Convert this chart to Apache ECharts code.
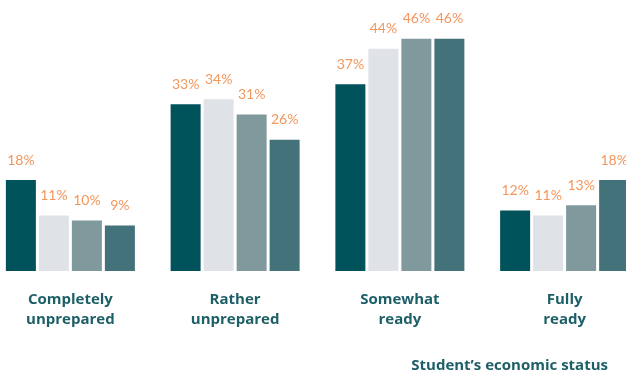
<!DOCTYPE html>
<html>
<head>
<meta charset="utf-8">
<script src="https://cdn.jsdelivr.net/npm/echarts@6/dist/echarts.min.js"></script>
<style>
  html, body { margin: 0; padding: 0; background: #ffffff; overflow: hidden; }
  /* The outer bars run slightly past the page edges, so the canvas is wider than the page */
  #chart { width: 659px; height: 376px; margin-left: -12px; }
</style>
</head>
<body>
<div id="chart"></div>
<script>
// Readiness categories along the x axis
const categories = ['Completely\nunprepared', 'Rather\nunprepared', 'Somewhat\nready', 'Fully\nready'];

// Share of students (%) per economic-status group
const statusNames = ['Lowest', 'Lower middle', 'Upper middle', 'Highest'];
const lowest = [18, 33, 37, 12];
const lowerMiddle = [11, 34, 44, 11];
const upperMiddle = [10, 31, 46, 13];
const highest = [9, 26, 46, 18];

const seriesValues = [lowest, lowerMiddle, upperMiddle, highest];
const barColors = ['#00535a', '#dfe2e6', '#7f999d', '#43727a'];

const textColor = '#1d5f67';
const labelColor = '#f4965c';
const headFont = '"Open Sans", Lato, sans-serif';
const valueFont = 'Lato, "Open Sans", sans-serif';

const chart = echarts.init(document.getElementById('chart'));

chart.setOption({
  animation: false,
  grid: { left: 0, right: 0, top: 18.5, bottom: 105 },
  title: {
    text: 'Student’s economic status',
    right: 39,
    top: 358,
    padding: 0,
    textStyle: { color: textColor, fontFamily: headFont, fontSize: 15, fontWeight: 'bold' }
  },
  xAxis: {
    type: 'category',
    data: categories,
    axisLine: { show: false },
    axisTick: { show: false },
    axisLabel: {
      interval: 0,
      margin: 19,
      color: textColor,
      fontFamily: headFont,
      fontSize: 15,
      fontWeight: 'bold',
      lineHeight: 20
    }
  },
  yAxis: {
    type: 'value',
    min: 0,
    max: 50,
    show: false,
    splitLine: { show: false }
  },
  series: seriesValues.map((vals, i) => ({
    name: statusNames[i],
    type: 'bar',
    data: vals,
    barWidth: 30,
    barGap: '10%',
    itemStyle: { color: barColors[i] },
    label: {
      show: true,
      position: 'top',
      distance: 13,
      formatter: '{c}%',
      color: labelColor,
      fontFamily: valueFont,
      fontSize: 14
    }
  }))
});
</script>
</body>
</html>
